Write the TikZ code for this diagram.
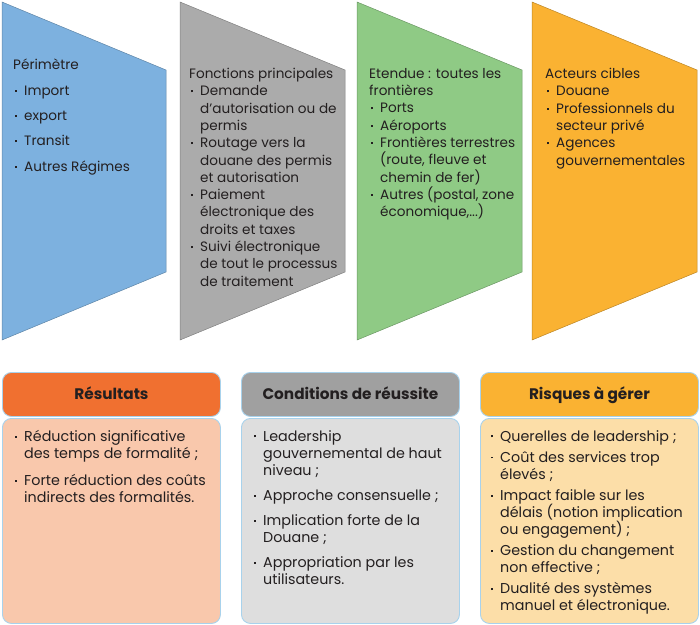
\documentclass[tikz,border=0pt]{standalone}
\usepackage{fontspec}
\setmainfont{Poppins}
\usetikzlibrary{positioning}
\definecolor{ink}{HTML}{231F20}
\definecolor{bluep}{HTML}{7DB1DF}
\definecolor{grayp}{HTML}{ABABAB}
\definecolor{greenp}{HTML}{8FCA85}
\definecolor{orangep}{HTML}{FAB232}
\definecolor{resh}{HTML}{F07030}
\definecolor{resb}{HTML}{F9C8AC}
\definecolor{cndh}{HTML}{A0A0A0}
\definecolor{cndb}{HTML}{DEDEDE}
\definecolor{rsqh}{HTML}{FAB232}
\definecolor{rsqb}{HTML}{FCDEA8}
\definecolor{rim}{HTML}{A8D2EC}
\newcommand{\bl}{\makebox[11pt][l]{\hspace{2pt}\rule[0.26em]{1.9pt}{1.9pt}}}
\newcommand{\ind}{\hspace*{11pt}}
\tikzset{
  chev/.style={fill=#1,draw=#1!75!black,line width=0.5pt},
  txt/.style={anchor=north west,inner sep=0pt,align=left,text=ink,font=\fontsize{13.6}{17.3}\selectfont},
  txtb/.style={txt,font=\fontsize{14.3}{17.1}\selectfont},
  head/.style={rectangle,rounded corners=9pt,draw=rim,line width=0.9pt,fill=#1,
               minimum width=218pt,minimum height=44pt,anchor=north west,
               text height=11pt,text depth=0pt,
               text=ink,font=\fontsize{15.3}{18}\selectfont\bfseries},
  panel/.style={rectangle,rounded corners=9pt,draw=rim,line width=0.9pt,fill=#1,
                minimum width=218pt,minimum height=205pt,anchor=north west},
}
\begin{document}
\begin{tikzpicture}[x=1pt,y=-1pt]
\useasboundingbox (0,0) rectangle (700,624);
% top row
\draw[chev=bluep]   (2,2)   -- (166,70) -- (166,272) -- (2,340)   -- cycle;
\draw[chev=grayp]   (180,2) -- (345,70) -- (345,272) -- (180,340) -- cycle;
\draw[chev=greenp]  (357,2) -- (522,70) -- (522,272) -- (357,340) -- cycle;
\draw[chev=orangep] (532,2) -- (697,70) -- (697,272) -- (532,340) -- cycle;
\node[txt] (peri) at (13,59) {Périmètre\\[8pt]
  \bl Import\\[8pt]
  \bl export\\[8pt]
  \bl Transit\\[8pt]
  \bl Autres Régimes};
\node[txt] (fonc) at (189,68) {Fonctions principales\\
  \bl Demande\\
  \ind d’autorisation ou de\\
  \ind permis\\
  \bl Routage vers la\\
  \ind douane des permis\\
  \ind et autorisation\\
  \bl Paiement\\
  \ind électronique des\\
  \ind droits et taxes\\
  \bl Suivi électronique\\
  \ind de tout le processus\\
  \ind de traitement};
\node[txt] (eten) at (369,68) {Etendue : toutes les\\
  frontières\\
  \bl Ports\\
  \bl Aéroports\\
  \bl Frontières terrestres\\
  \ind (route, fleuve et\\
  \ind chemin de fer)\\
  \bl Autres (postal, zone\\
  \ind économique,...)};
\node[txt] (acte) at (545,68) {Acteurs cibles\\
  \bl Douane\\
  \bl Professionnels du\\
  \ind secteur privé\\
  \bl Agences\\
  \ind gouvernementales};
% bottom row
\node[panel=resb] (resp) at (2,418) {};
\node[head=resh] (resh) at (2,372) {Résultats};
\node[panel=cndb] (cndp) at (241,418) {};
\node[head=cndh] (cndh) at (241,372) {Conditions de réussite};
\node[panel=rsqb] (rsqp) at (480,418) {};
\node[head=rsqh] (rsqh) at (480,372) {Risques à gérer};
\node[txtb,below right=12pt and 11pt of resp.north west] (rest) {%
  \bl Réduction significative\\
  \ind des temps de formalité ;\\[10pt]
  \bl Forte réduction des coûts\\
  \ind indirects des formalités.};
\node[txtb,below right=12pt and 11pt of cndp.north west] (cndt) {%
  \bl Leadership\\
  \ind gouvernemental de haut\\
  \ind niveau ;\\[8pt]
  \bl Approche consensuelle ;\\[8pt]
  \bl Implication forte de la\\
  \ind Douane ;\\[8pt]
  \bl Appropriation par les\\
  \ind utilisateurs.};
\node[txtb,below right=12pt and 9pt of rsqp.north west] (rsqt) {%
  \bl Querelles de leadership ;\\[4pt]
  \bl Coût des services trop\\
  \ind élevés ;\\[4pt]
  \bl Impact faible sur les\\
  \ind délais (notion implication\\
  \ind ou engagement) ;\\[4pt]
  \bl Gestion du changement\\
  \ind non effective ;\\[4pt]
  \bl Dualité des systèmes\\
  \ind manuel et électronique.};
\end{tikzpicture}
\end{document}
